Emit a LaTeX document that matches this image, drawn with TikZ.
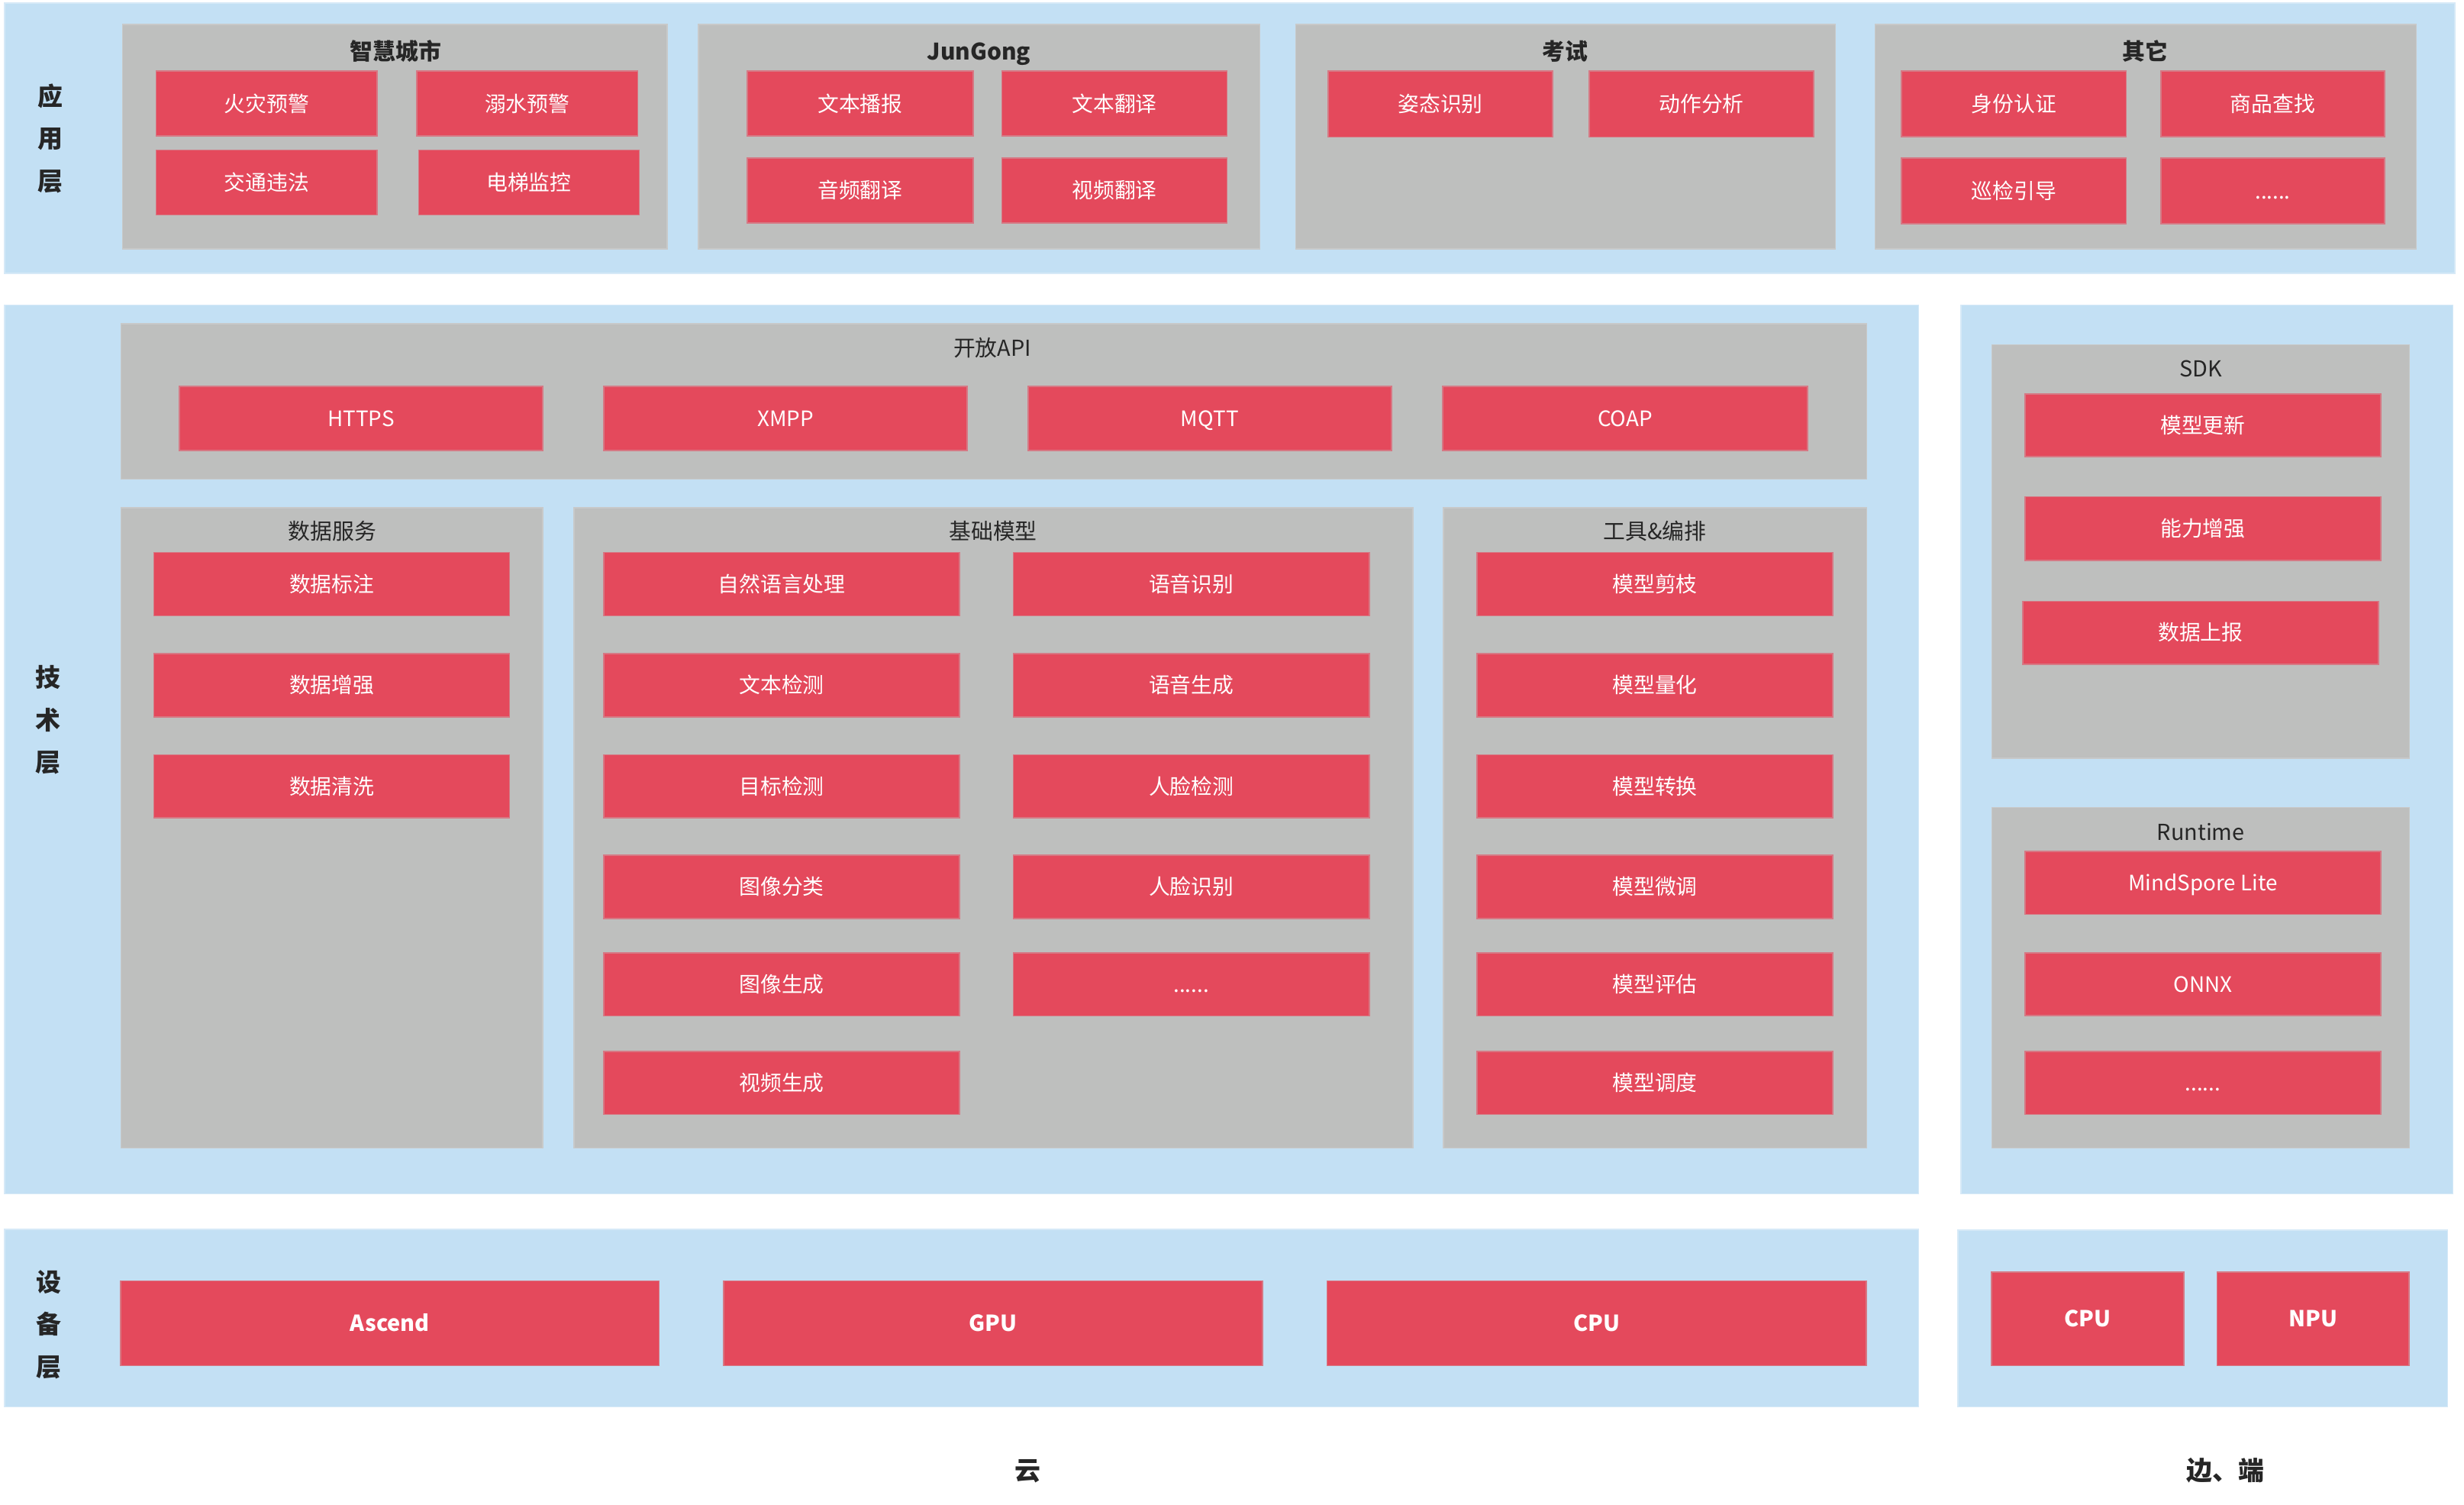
\documentclass[tikz,border=0pt]{standalone}
\usepackage{fontspec}
\setmainfont{Noto Sans CJK SC}
\definecolor{lb}{RGB}{195,224,244}
\definecolor{lbline}{RGB}{214,233,247}
\definecolor{gr}{RGB}{190,191,190}
\definecolor{grline}{RGB}{200,201,201}
\definecolor{rd}{RGB}{228,73,92}
\definecolor{rdline}{RGB}{214,120,132}
\definecolor{dk}{RGB}{38,38,38}
\newcommand\mkbx[7]{\pgfmathsetmacro\bxw{#5-#3}\pgfmathsetmacro\bxh{#6-#4}%
  \node[#1,minimum width=\bxw pt,minimum height=\bxh pt] (#2) at ({(#3+#5)/2},{(#4+#6)/2}) {#7};}
\tikzset{
  base/.style={rectangle,inner sep=0pt,outer sep=0pt,line width=0.8pt},
  band/.style={base,fill=lb,draw=lbline},
  grp/.style={base,fill=gr,draw=grline},
  rbox/.style={base,fill=rd,draw=rdline,text=white,font=\fontsize{13.5}{16}\selectfont,text height=1em,text depth=0em},
  dbox/.style={rbox,font=\bfseries\fontsize{14}{16}\selectfont},
  ttl/.style={inner sep=0pt,text=dk,font=\fontsize{14}{16}\selectfont,text height=1em,text depth=0em},
  bttl/.style={ttl,font=\bfseries\fontsize{14.5}{16}\selectfont},
  lyr/.style={inner sep=0pt,text=dk,align=center,font=\bfseries\fontsize{16}{27}\selectfont},
  foot/.style={inner sep=0pt,text=dk,font=\bfseries\fontsize{16.5}{18}\selectfont,text height=1em,text depth=0em}
}
\begin{document}
\begin{tikzpicture}[x=1pt,y=-1pt]
\useasboundingbox (0,0) rectangle (1568,957);
% bands
\mkbx{band}{appband}{3}{2}{1562}{174}{}
\mkbx{band}{cloudband}{3}{194}{1221}{759.5}{}
\mkbx{band}{edgeband}{1248}{194}{1561}{759.5}{}
\mkbx{band}{devband}{3}{782}{1221}{895}{}
\mkbx{band}{edevband}{1246}{782.5}{1557.5}{895}{}
% layer labels
\node[lyr] (lyrapp) at (32.2,88) {应\\用\\层};
\node[lyr] (lyrtech) at (30.4,458) {技\\术\\层};
\node[lyr] (lyrdev) at (30.9,842.5) {设\\备\\层};
% application groups
\mkbx{grp}{gcity}{78}{15.5}{424.5}{158.5}{}
\mkbx{grp}{gjun}{444.3}{15.5}{801.7}{158.5}{}
\mkbx{grp}{gexam}{824.5}{15.5}{1168}{158.5}{}
\mkbx{grp}{gother}{1193.2}{15.5}{1537.7}{158.5}{}
\node[bttl] (tcity) at (251.7,33) {智慧城市};
\node[bttl] (tjun) at (623,33) {JunGong};
\node[bttl] (texam) at (996,33) {考试};
\node[bttl] (tother) at (1365,33) {其它};
\mkbx{rbox}{a1}{99.4}{45.3}{240.1}{86.6}{火灾预警}
\mkbx{rbox}{a2}{265.2}{45.3}{405.8}{86.6}{溺水预警}
\mkbx{rbox}{a3}{99.4}{95.5}{240.1}{136.8}{交通违法}
\mkbx{rbox}{a4}{266.4}{95.5}{406.8}{136.8}{电梯监控}
\mkbx{rbox}{b1}{475.5}{45.3}{619.3}{86.6}{文本播报}
\mkbx{rbox}{b2}{637.6}{45.3}{780.9}{86.6}{文本翻译}
\mkbx{rbox}{b3}{475.5}{100.4}{619.3}{141.7}{音频翻译}
\mkbx{rbox}{b4}{637.6}{100.4}{780.9}{141.7}{视频翻译}
\mkbx{rbox}{c1}{845.3}{45.3}{988}{87.2}{姿态识别}
\mkbx{rbox}{c2}{1011.3}{45.3}{1154.2}{87.2}{动作分析}
\mkbx{rbox}{d1}{1210}{45.3}{1353}{87}{身份认证}
\mkbx{rbox}{d2}{1375}{45.3}{1517.6}{87}{商品查找}
\mkbx{rbox}{d3}{1210}{100.5}{1353}{142.3}{巡检引导}
\mkbx{rbox}{d4}{1375}{100.5}{1517.6}{142.3}{......}
% open API
\mkbx{grp}{gapi}{77}{206}{1187.8}{304.8}{}
\node[ttl] (tapi) at (631.5,221.8) {开放API};
\mkbx{rbox}{p1}{114}{245.7}{345.4}{286.7}{HTTPS}
\mkbx{rbox}{p2}{384.3}{245.7}{615.5}{286.7}{XMPP}
\mkbx{rbox}{p3}{654.2}{245.7}{885.4}{286.7}{MQTT}
\mkbx{rbox}{p4}{918}{245.7}{1150.2}{286.7}{COAP}
% data service
\mkbx{grp}{gdata}{77}{322.9}{345.4}{730.3}{}
\node[ttl] (tdata) at (211.4,338.4) {数据服务};
\mkbx{rbox}{s1}{97.9}{351.5}{324.3}{391.7}{数据标注}
\mkbx{rbox}{s2}{97.9}{415.8}{324.3}{456}{数据增强}
\mkbx{rbox}{s3}{97.9}{480.1}{324.3}{520.3}{数据清洗}
% base models
\mkbx{grp}{gmodel}{365.3}{322.9}{899}{730.3}{}
\node[ttl] (tmodel) at (632,338.4) {基础模型};
\mkbx{rbox}{m1}{384.3}{351.5}{610.6}{391.7}{自然语言处理}
\mkbx{rbox}{m2}{384.3}{415.8}{610.6}{456}{文本检测}
\mkbx{rbox}{m3}{384.3}{480.1}{610.6}{520.3}{目标检测}
\mkbx{rbox}{m4}{384.3}{544.1}{610.6}{584.2}{图像分类}
\mkbx{rbox}{m5}{384.3}{606.2}{610.6}{646.3}{图像生成}
\mkbx{rbox}{m6}{384.3}{669}{610.6}{709}{视频生成}
\mkbx{rbox}{n1}{644.9}{351.5}{871.3}{391.7}{语音识别}
\mkbx{rbox}{n2}{644.9}{415.8}{871.3}{456}{语音生成}
\mkbx{rbox}{n3}{644.9}{480.1}{871.3}{520.3}{人脸检测}
\mkbx{rbox}{n4}{644.9}{544.1}{871.3}{584.2}{人脸识别}
\mkbx{rbox}{n5}{644.9}{606.2}{871.3}{646.3}{......}
% tools
\mkbx{grp}{gtool}{918.5}{322.9}{1187.8}{730.3}{}
\node[ttl] (ttool) at (1053,338.4) {工具\&编排};
\mkbx{rbox}{t1}{940}{351.5}{1166.2}{391.7}{模型剪枝}
\mkbx{rbox}{t2}{940}{415.8}{1166.2}{456}{模型量化}
\mkbx{rbox}{t3}{940}{480.1}{1166.2}{520.3}{模型转换}
\mkbx{rbox}{t4}{940}{544.1}{1166.2}{584.2}{模型微调}
\mkbx{rbox}{t5}{940}{606.2}{1166.2}{646.3}{模型评估}
\mkbx{rbox}{t6}{940}{669}{1166.2}{709}{模型调度}
% SDK
\mkbx{grp}{gsdk}{1267.5}{219.4}{1533.2}{482.5}{}
\node[ttl] (tsdk) at (1400.5,234.6) {SDK};
\mkbx{rbox}{k1}{1288.7}{250.7}{1515}{290.6}{模型更新}
\mkbx{rbox}{k2}{1288.7}{316}{1515}{356.4}{能力增强}
\mkbx{rbox}{k3}{1287.2}{382.5}{1513.5}{422.5}{数据上报}
% Runtime
\mkbx{grp}{grt}{1267.5}{513.7}{1533.2}{730.3}{}
\node[ttl] (trt) at (1400.5,529.5) {Runtime};
\mkbx{rbox}{r1}{1288.7}{541.6}{1515}{581.6}{MindSpore Lite}
\mkbx{rbox}{r2}{1288.7}{606.1}{1515}{646.1}{ONNX}
\mkbx{rbox}{r3}{1288.7}{669}{1515}{709}{......}
% devices
\mkbx{dbox}{e1}{76.8}{814.8}{419.5}{868.7}{Ascend}
\mkbx{dbox}{e2}{460.5}{814.8}{803.5}{868.7}{GPU}
\mkbx{dbox}{e3}{844.5}{814.8}{1187.5}{868.7}{CPU}
\mkbx{dbox}{f1}{1267.4}{809.1}{1389.8}{868.7}{CPU}
\mkbx{dbox}{f2}{1410.8}{809.1}{1533}{868.7}{NPU}
% footers
\node[foot] (fcloud) at (654,936.5) {云};
\node[foot] (fedge) at (1416.4,936.7) {边、端};
\end{tikzpicture}
\end{document}
